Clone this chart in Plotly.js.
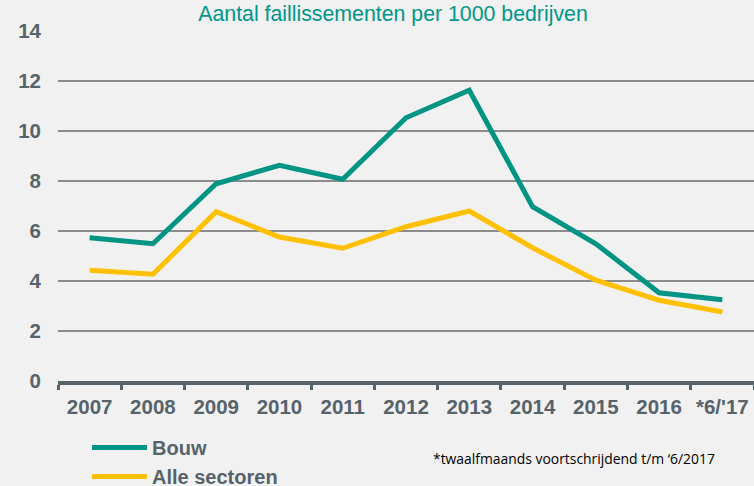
<!DOCTYPE html>
<html>
<head>
<meta charset="utf-8">
<script src="https://cdn.plot.ly/plotly-3.0.1.min.js"></script>
<style>html,body{margin:0;padding:0;background:#f1f1f1;}#chart{width:754px;height:486px;}</style>
</head>
<body>
<div id="chart"></div>
<script>
const categories = ['2007','2008','2009','2010','2011','2012','2013','2014','2015','2016',"*6/'17"];
const bouw = [5.73, 5.49, 7.89, 8.63, 8.07, 10.53, 11.63, 6.97, 5.49, 3.53, 3.25];
const alleSectoren = [4.43, 4.27, 6.77, 5.76, 5.31, 6.17, 6.80, 5.33, 4.03, 3.23, 2.76];
const yTicks = [0, 2, 4, 6, 8, 10, 12, 14];
const titleText = 'Aantal faillissementen per 1000 bedrijven';
const noteText = '*twaalfmaands voortschrijdend t/m \u20186/2017';

const gray = '#56636b';
const traces = [
  {x: categories, y: bouw, name: 'Bouw', type: 'scatter', mode: 'lines',
   line: {color: '#009485', width: 5}},
  {x: categories, y: alleSectoren, name: 'Alle sectoren', type: 'scatter', mode: 'lines',
   line: {color: '#ffc000', width: 5}}
];
const layout = {
  width: 754, height: 486,
  paper_bgcolor: '#f1f1f1', plot_bgcolor: '#f1f1f1',
  margin: {l: 58, r: 0, t: 31, b: 105, autoexpand: false},
  font: {family: 'Liberation Sans, Arial, sans-serif', color: gray},
  title: {text: titleText, font: {size: 21.3, color: '#00968a'}, x: 393/754, xanchor: 'center', xref: 'container',
          y: 1 - 14/486, yanchor: 'middle', yref: 'container'},
  xaxis: {type: 'category', range: [-0.5, categories.length - 0.5], tickson: 'boundaries', ticks: 'outside',
          ticklen: 5, tickwidth: 3, tickcolor: gray,
          showline: true, linecolor: gray, linewidth: 4, showgrid: false, fixedrange: true, tickangle: 0,
          tickfont: {size: 20.5, color: gray, weight: 'bold'}, ticklabelstandoff: 4},
  yaxis: {range: [0, 14], tickvals: yTicks, showgrid: true, gridcolor: '#8c8c8c', gridwidth: 2,
          zeroline: false, showline: false, ticks: '', fixedrange: true,
          tickfont: {size: 20.5, color: gray, weight: 'bold'}, ticklabelstandoff: 16},
  showlegend: true,
  legend: {x: (87 - 58) / 696, y: (381 - 428) / 350, xanchor: 'left', yanchor: 'top',
           bgcolor: 'rgba(0,0,0,0)', itemwidth: 55, tracegroupgap: 0,
           font: {size: 20, color: gray, weight: 'bold'}},
  annotations: [{text: noteText, xref: 'paper', yref: 'paper', x: (431 - 58) / 696, y: (381 - 458) / 350,
                 xanchor: 'left', yanchor: 'middle', showarrow: false,
                 font: {size: 13.9, color: '#000000', family: 'Open Sans, sans-serif'}}]
};
Plotly.newPlot('chart', traces, layout, {displayModeBar: false, staticPlot: true});
</script>
</body>
</html>
